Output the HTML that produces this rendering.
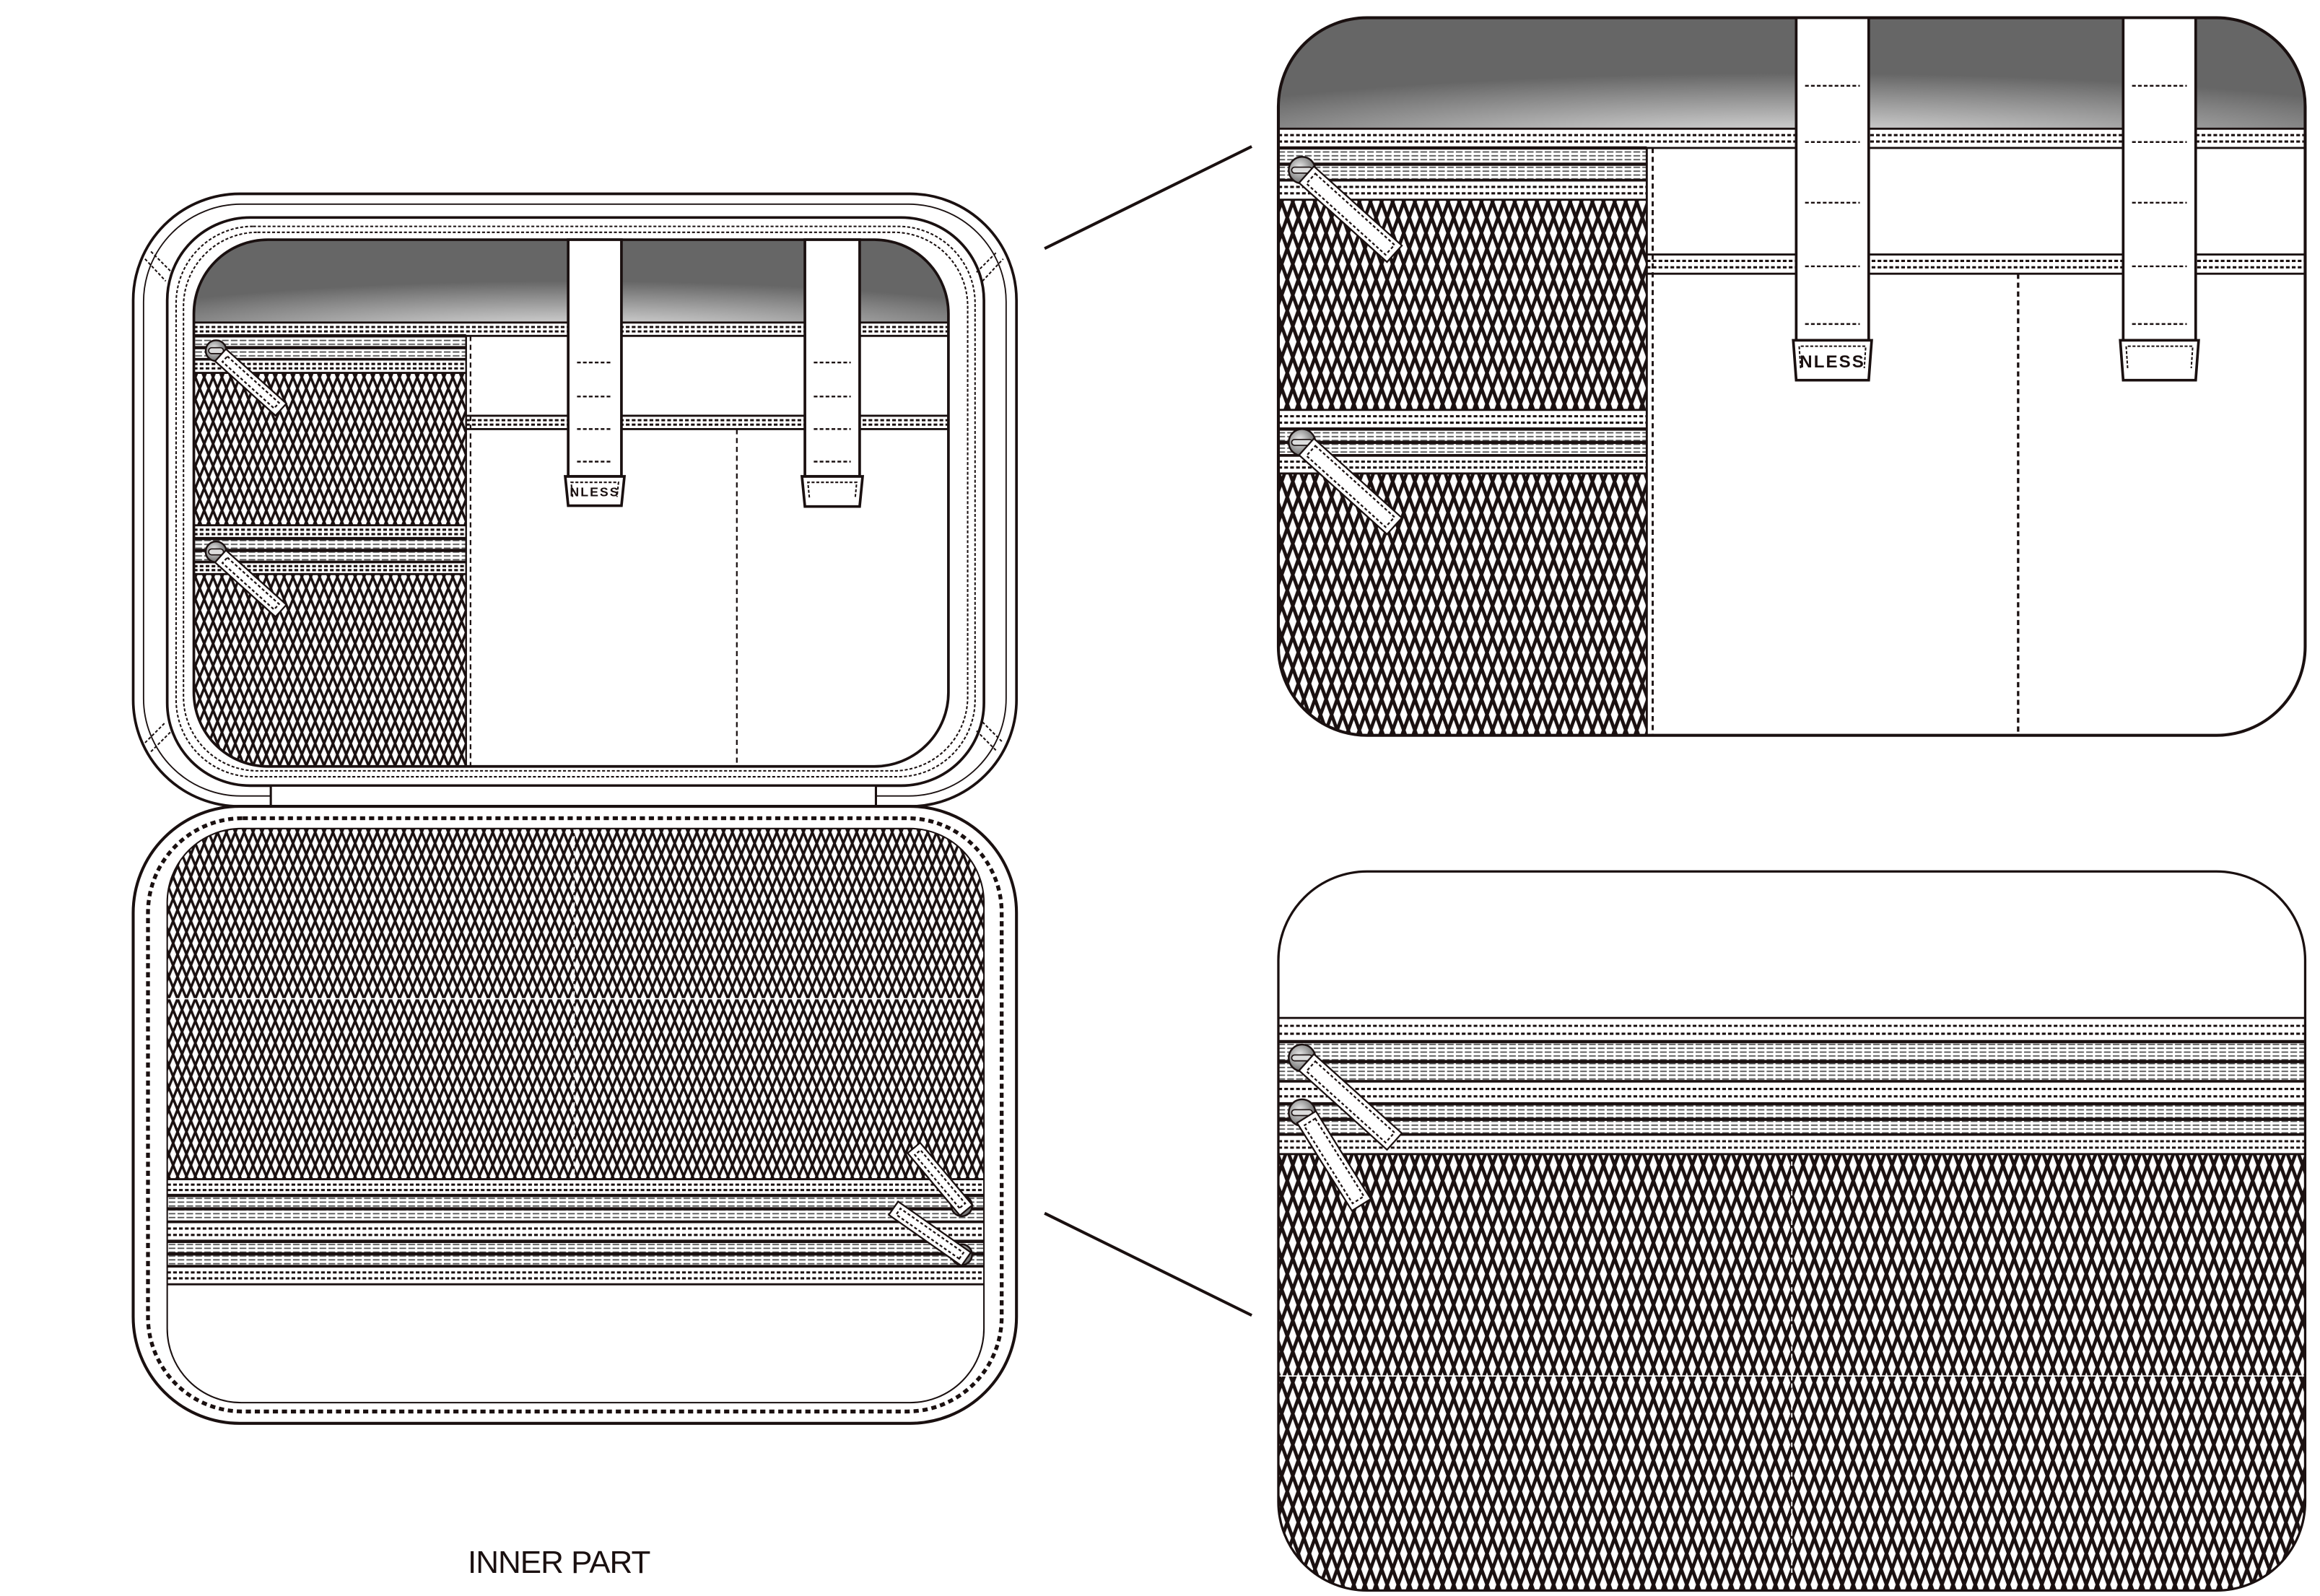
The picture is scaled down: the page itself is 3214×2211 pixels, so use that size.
<!DOCTYPE html>
<html><head><meta charset="utf-8"><style>
html,body{margin:0;padding:0;background:#fff;width:3214px;height:2211px;overflow:hidden}
svg{display:block}
</style></head><body>
<svg id="s" width="3214" height="2211" viewBox="0 0 1568 1078.7" xmlns="http://www.w3.org/2000/svg">
<defs>
<pattern id="meshS" patternUnits="userSpaceOnUse" width="6" height="15"><path d="M0,0L6,15M6,0L0,15" stroke="#1a1010" stroke-width="1.7" fill="none"/></pattern>
<pattern id="meshL" patternUnits="userSpaceOnUse" width="7.5" height="21"><path d="M0,0L7.5,21M7.5,0L0,21" stroke="#1a1010" stroke-width="2.3" fill="none"/></pattern>
<pattern id="tape" patternUnits="userSpaceOnUse" width="6" height="2.6"><rect width="6" height="2.6" fill="#fff"/><path d="M0,1.3H4.5" stroke="#555" stroke-width="0.9"/></pattern>
<radialGradient id="gray" cx="0.5" cy="1.2" r="0.7"><stop offset="0" stop-color="#f4f4f4"/><stop offset="1" stop-color="#666"/></radialGradient>
<radialGradient id="pullg" cx="0.4" cy="0.4" r="0.7"><stop offset="0" stop-color="#eee"/><stop offset="1" stop-color="#555"/></radialGradient>
<clipPath id="cL"><rect x="131" y="162" width="510" height="356" rx="50"/></clipPath>
<clipPath id="cB"><rect x="113" y="560" width="552" height="388" rx="50"/></clipPath>
<clipPath id="cRT"><rect x="864" y="12" width="694" height="485" rx="60"/></clipPath>
<clipPath id="cRB"><rect x="864" y="589" width="694" height="486" rx="60"/></clipPath>
</defs>
<g id="g" fill="none" stroke="#1a1010"></g>
</svg>
<div style="position:absolute;left:648px;top:2140px;font:44px 'Liberation Sans',sans-serif;color:#1a1010;letter-spacing:-1px">INNER PART</div>
<script>
var o='';
function strip(x0,x1,a,b){o+=`<rect x="${x0}" y="${a}" width="${x1-x0}" height="${b-a}" fill="#fff" stroke="none"/>`;
o+=`<path d="M${x0},${a}H${x1}M${x0},${b}H${x1}" stroke-width="1.4"/>`;
var d=(b-a)/3;o+=`<path d="M${x0},${a+d}H${x1}M${x0},${a+2*d}H${x1}" stroke-width="1.5" stroke-dasharray="2.5 1.5"/>`;}
function tape(x0,x1,a,b){o+=`<rect x="${x0}" y="${a}" width="${x1-x0}" height="${b-a}" fill="url(#tape)" stroke="none"/>`;
var m=(a+b)/2;o+=`<path d="M${x0},${a}H${x1}M${x0},${b}H${x1}M${x0},${m}H${x1}" stroke-width="2.2"/>`;}
function pull(cx,cy,ang,len,w,r){r=r||7;o+=`<circle cx="${cx}" cy="${cy}" r="${r}" fill="url(#pullg)" stroke-width="1.2"/>`;
o+=`<rect x="${cx-r+2}" y="${cy-2}" width="${2*r-4}" height="4" rx="2" fill="#ddd" stroke-width="0.8"/>`;
o+=`<g transform="translate(${cx+3},${cy+3}) rotate(${ang})"><rect x="0" y="${-w/2}" width="${len}" height="${w}" fill="#fff" stroke-width="1.1"/><rect x="4" y="${-w/2+3}" width="${len-8}" height="${w-6}" stroke-width="1.1" stroke-dasharray="2 1.5"/></g>`;}
function strap(x0,x1,y0,y1,ty,label){o+=`<rect x="${x0}" y="${y0}" width="${x1-x0}" height="${y1-y0}" fill="#fff" stroke-width="1.8"/>`;
ty.forEach(y=>o+=`<path d="M${x0+6},${y}H${x1-6}" stroke-width="1.2" stroke-dasharray="2.5 1.5"/>`);
var w=x1-x0,h=(w)*0.55;o+=`<path d="M${x0-2},${y1}H${x1+2}L${x1},${y1+h}H${x0}Z" fill="#fff" stroke-width="1.8"/>`;
o+=`<path d="M${x0+3},${y1+h*0.7}L${x0+2},${y1+4}H${x1-2}L${x1-3},${y1+h*0.7}" stroke-width="1" stroke-dasharray="2 1.2"/>`;
if(label)o+=`<text x="${(x0+x1)/2}" y="${y1+h*0.68}" text-anchor="middle" font-family="Liberation Sans,sans-serif" font-weight="bold" font-size="${w*0.24}" fill="#1a1010" stroke="none" letter-spacing="1">NLESS</text>`;}
function dv(x,a,b,sw){o+=`<path d="M${x},${a}V${b}" stroke-width="${sw||1.5}" stroke-dasharray="3.5 2.5"/>`;}

o+=`<rect x="90" y="131" width="597" height="414" rx="72" fill="#fff" stroke-width="1.8"/>`;
o+=`<rect x="97" y="138" width="583" height="400" rx="66" stroke-width="0.9"/>`;
o+=`<rect x="113" y="147" width="552" height="384" rx="56" fill="#fff" stroke-width="1.8"/>`;
o+=`<rect x="119" y="153" width="540" height="372" rx="52" stroke-width="1" stroke-dasharray="2 1.3"/>`;
o+=`<rect x="124" y="157" width="530" height="364" rx="50" stroke-width="1" stroke-dasharray="2 1.3"/>`;
o+=`<path d="M98,175L112,190M102,170L116,184M664,190L678,175M660,184L674,170M98,502L112,488M102,508L116,494M664,488L678,502M660,494L674,508" stroke-width="1" stroke-dasharray="2 1.3"/>`;
o+=`<g clip-path="url(#cL)"><rect x="131" y="162" width="510" height="56" fill="url(#gray)" stroke="none"/>`;
o+=`<rect x="131" y="218" width="510" height="300" fill="#fff" stroke="none"/>`;
strip(131,641,218,227);
o+=`<rect x="131" y="227" width="184" height="291" fill="url(#meshS)" stroke="none"/>`;
tape(131,315,227,243);strip(131,315,243,252);
strip(131,315,355,364);tape(131,315,364,380);strip(131,315,380,388);
strip(315,641,281,290);
o+=`</g>`;
o+=`<path d="M315,227V518" stroke-width="1.2"/>`;dv(318,227,518,1.1);dv(498,290,518,1.1);
o+=`<rect x="131" y="162" width="510" height="356" rx="50" stroke-width="1.8"/>`;
strap(384,420,162,322,[245,268,290,312],true);
strap(544,581,162,322,[245,268,290,312],false);
pull(146,237,42,55,11);pull(146,373,42,55,11);
o+=`<rect x="183" y="531" width="409" height="14" fill="#fff" stroke-width="1.5"/>`;

o+=`<rect x="90" y="545" width="597" height="417" rx="72" fill="#fff" stroke-width="2"/>`;
o+=`<rect x="100" y="553" width="577" height="401" rx="64" stroke-width="2.6" stroke-dasharray="3.5 2.6"/>`;
o+=`<g clip-path="url(#cB)"><rect x="113" y="560" width="552" height="237" fill="url(#meshS)" stroke="none"/>`;
o+=`<path d="M113,675H665" stroke="#fff" stroke-width="0.8"/><path d="M388,560V797" stroke="#fff" stroke-width="0.8" stroke-dasharray="3 2"/>`;
strip(113,665,797,808);tape(113,665,808,826);strip(113,665,826,839);tape(113,665,839,856);strip(113,665,856,868);
o+=`</g>`;
o+=`<rect x="113" y="560" width="552" height="388" rx="50" stroke-width="1"/>`;
pull(650,815,-130,55,11);pull(650,848,-145,60,11);

o+=`<g clip-path="url(#cRT)"><rect x="864" y="12" width="694" height="75" fill="url(#gray)" stroke="none"/>`;
o+=`<rect x="864" y="87" width="694" height="410" fill="#fff" stroke="none"/>`;
strip(864,1558,87,100);
o+=`<rect x="864" y="100" width="249" height="397" fill="url(#meshL)" stroke="none"/>`;
tape(864,1113,100,122);strip(864,1113,122,135);
strip(864,1113,277,290);tape(864,1113,290,308);strip(864,1113,308,320);
strip(1113,1558,172,185);
o+=`</g>`;
o+=`<path d="M1113,100V497" stroke-width="1.4"/>`;dv(1117,100,497,1.4);dv(1364,185,497,1.6);
o+=`<rect x="864" y="12" width="694" height="485" rx="60" stroke-width="2"/>`;
strap(1214,1263,12,230,[58,96,137,180,219],true);
strap(1435,1484,12,230,[58,96,137,180,219],false);
pull(880,115,42,80,15,9);pull(880,299,42,80,15,9);

o+=`<g clip-path="url(#cRB)"><rect x="864" y="589" width="694" height="486" fill="#fff" stroke="none"/>`;
o+=`<rect x="864" y="780" width="694" height="295" fill="url(#meshL)" stroke="none"/>`;
o+=`<path d="M864,930H1558" stroke="#fff" stroke-width="0.8"/><path d="M1211,780V1075" stroke="#fff" stroke-width="0.9" stroke-dasharray="3 2"/>`;
strip(864,1558,688,704);tape(864,1558,704,731);strip(864,1558,731,746);tape(864,1558,746,767);strip(864,1558,767,780);
o+=`</g>`;
o+=`<rect x="864" y="589" width="694" height="486" rx="60" stroke-width="1.6"/>`;
pull(880,715,42,80,15,9);pull(880,752,58,70,15,9);

o+=`<path d="M706,168L846,99M706,820L846,889" stroke-width="2"/>`;
document.getElementById('g').innerHTML=o;
</script>
</body></html>
